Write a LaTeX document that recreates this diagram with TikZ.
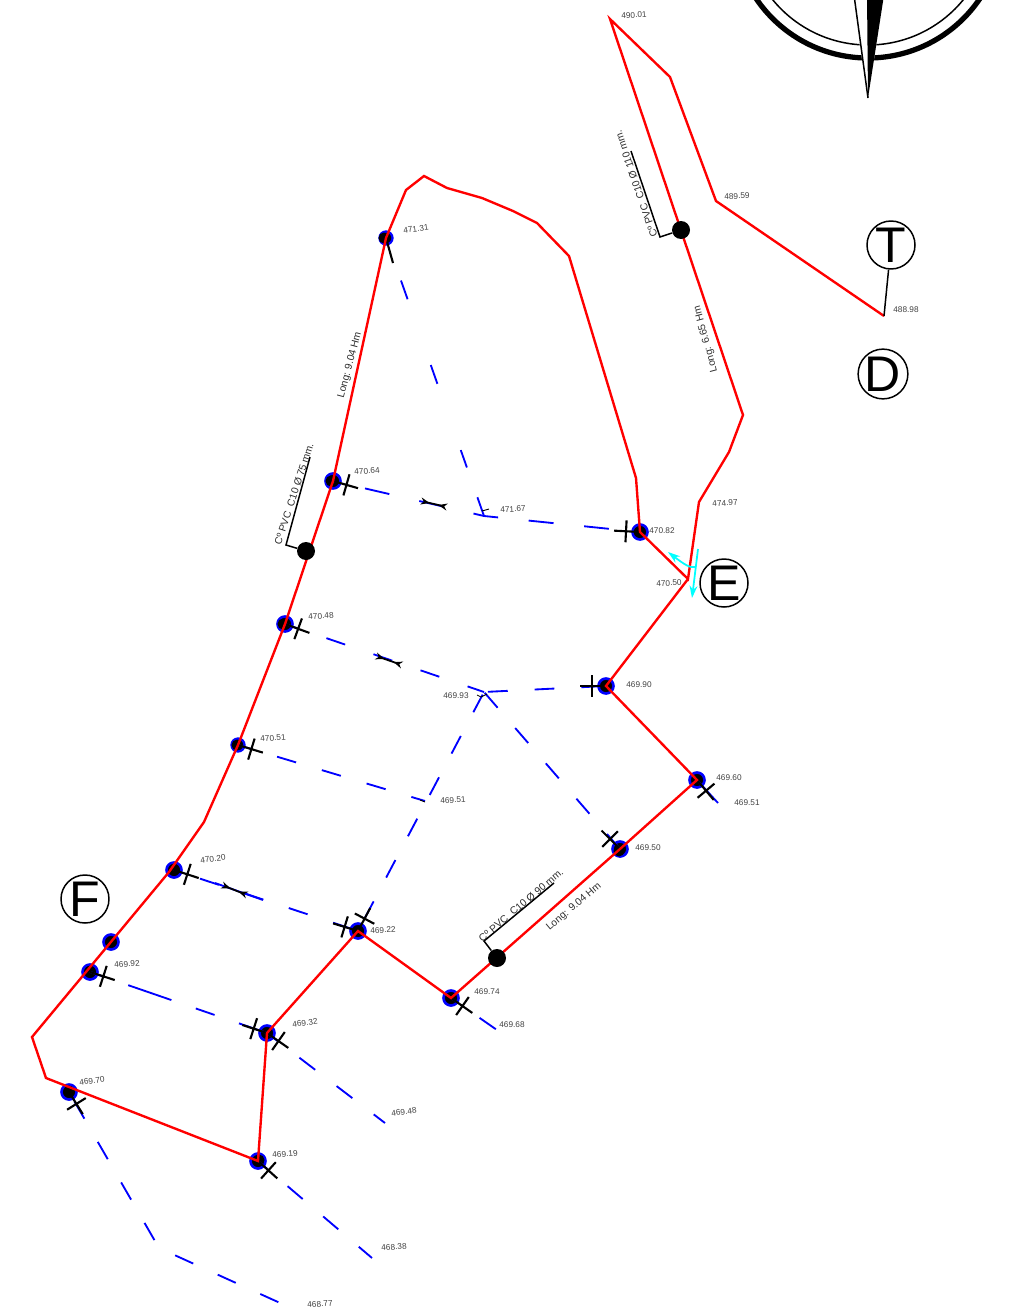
\documentclass[tikz,border=0pt]{standalone}
\usepackage{fontspec}
\setmainfont{Liberation Sans}
\usepackage{xcolor}
\usetikzlibrary{arrows.meta}
\definecolor{levelgray}{gray}{0.25}
\definecolor{aqua}{RGB}{0,255,255}
\tikzset{
    redline/.style={draw=red, line width=1.35pt, line join=miter},
    pipe/.style={draw=blue, line width=1.05pt, dash pattern=on 11.3pt off 15.3pt},
    valve/.style={circle, fill=black, draw=blue, line width=1.5pt, minimum size=0.3cm, inner sep=0pt},
    smallvalve/.style={valve, minimum size=0.26cm, line width=1.3pt},
    tee/.style={circle, fill=black, minimum size=0.36cm, inner sep=0pt},
    tick/.style={draw=black, line width=1.2pt},
    smalltick/.style={draw=black, line width=0.5pt},
    leader/.style={draw=black, line width=0.85pt},
    level/.style={font=\fontsize{4.7}{5}\selectfont, text=levelgray, inner sep=0pt},
    pipetext/.style={font=\fontsize{5.8}{7}\selectfont, text=levelgray!70!black, inner sep=0pt},
    letter/.style={circle, draw=black, line width=0.85pt, minimum size=0.96cm, inner sep=0pt, font=\fontsize{28.5}{30}\selectfont},
    flowmark/.style={draw=black, line width=1pt, {Stealth[reversed, length=5pt, width=4pt]}-{Stealth[reversed, length=5pt, width=4pt]}},
    cyanmark/.style={draw=aqua, line width=1pt, -{Stealth[length=7pt, width=4.5pt]}}
}
\newcommand{\crossmark}[2]{\draw[tick] (#1.center) -- +(#2:26) ++(#2:14) +(#2+90:11) -- +(#2-90:11);}
\begin{document}
\begin{tikzpicture}[x=0.02cm, y=-0.02cm]
    \useasboundingbox (0,0) rectangle (1025,1315);
    % Compass
    \begin{scope}
        \clip (0,0) rectangle (1025,1315);
        \draw[line width=3pt] (868,-77) circle (135);
        \draw[line width=0.85pt] (868,-78) circle (123);
        \fill[white] (852,-5) -- (884,-5) -- (868,98) -- cycle;
        \draw[line width=0.85pt] (854,-5) -- (868,98);
        \fill[black] (867,-5) -- (884,-5) -- (868,98) -- cycle;
    \end{scope}

    % Bends of the red line
    \coordinate (b1) at (670,77);
    \coordinate (b2) at (743,415);
    \coordinate (b3) at (729,452);
    \coordinate (b4) at (699,502);
    \coordinate (b5) at (636,478);
    \coordinate (b6) at (569,256);
    \coordinate (b7) at (537,223);
    \coordinate (b8) at (513,211);
    \coordinate (b9) at (482,198);
    \coordinate (b10) at (447,188);
    \coordinate (b11) at (424,176);
    \coordinate (b12) at (406,190);
    \coordinate (b13) at (204,822);
    \coordinate (b14) at (32,1037);
    \coordinate (b15) at (46,1078);
    \coordinate (b16) at (169,872);
    % Bend and free ends of the blue lines
    \coordinate (d1) at (484,516);
    \coordinate (d2) at (484,692);
    \coordinate (d3) at (425,801);
    \coordinate (d4) at (385,1123);
    \coordinate (d5) at (372,1258);
    \coordinate (d6) at (159,1248);
    \coordinate (d7) at (300,1312);
    \coordinate (d8) at (497,1030);
    \coordinate (d9) at (718,803);

    % Junctions
    \coordinate (top) at (610,19);
    \coordinate (mid) at (716,201);
    \coordinate (end) at (884,316);
    \coordinate (fork) at (688,579);
    \node[smallvalve] (v1) at (386,238) {};
    \node[valve] (v2) at (333,481) {};
    \node[valve] (v3) at (640,532) {};
    \node[valve] (v4) at (285,624) {};
    \node[valve] (v5) at (606,686) {};
    \node[valve] (v6) at (697,780) {};
    \node[smallvalve] (v7) at (238,745) {};
    \node[valve] (v8) at (620,849) {};
    \node[valve] (v9) at (174,870) {};
    \node[valve] (v10) at (358,931) {};
    \node[valve] (v11) at (111,942) {};
    \node[valve] (v12) at (90,972) {};
    \node[valve] (v13) at (451,998) {};
    \node[valve] (v14) at (267,1033) {};
    \node[valve] (v15) at (69,1092) {};
    \node[valve] (v16) at (258,1161) {};
    % Black lying off centre
    \foreach \n/\dx/\dy in {v1/-2/0, v2/-2/0, v3/-1/0, v4/-2/0, v7/-1/0, v8/-1/2, v9/0/-1, v12/0/-1, v15/0/-1, v16/1/-1}
        \fill[black] (\n.center) ++(\dx,\dy) circle (5.5);

    % Blue lines
    \draw[pipe, dash pattern=on 14.2pt off 17.5pt, dash phase=13pt] (v2.center) -- (d1) -- (v3.center);
    \draw[pipe, dash pattern=on 11.3pt off 18pt on 10.5pt off 40pt on 11.3pt off 39.7pt on 11.3pt off 113pt] (d1) -- (v1.center);
    \draw[pipe, dash pattern=on 11.3pt off 17pt, dash phase=3.4pt] (v4.center) -- (d2);
    \draw[pipe, dash phase=23.8pt] (v5.center) -- (d2);
    \draw[pipe, dash phase=3.4pt] (v7.center) -- (d3);
    \draw[pipe] (v8.center) -- (d2);
    \draw[pipe, dash phase=24.9pt] (d2) -- (v10.center);
    \draw[pipe, dash phase=11pt] (v9.center) -- (v10.center);
    \draw[draw=blue, line width=1.05pt] (215,883) -- (263,900);
    \draw[pipe, dash pattern=on 26pt off 14.7pt on 11.3pt off 14.7pt, dash phase=43.7pt] (v12.center) -- (v14.center);
    \draw[pipe, dash phase=3.4pt] (v14.center) -- (d4);
    \draw[pipe, dash phase=4.5pt] (v16.center) -- (d5);
    \draw[pipe, dash phase=20.4pt] (v15.center) -- (d6) -- (d7);
    \draw[pipe, dash phase=6.8pt] (v13.center) -- (d8);
    \draw[draw=blue, line width=1.05pt] (v6.center) -- (d9);
    % Small ticks on the blue lines
    \draw[smalltick] (482,511) -- (489,509);
    \draw[smalltick] (477,695) -- (481,697) -- (487,694);
    \draw[smalltick] (420,800) -- (425,802);

    % Crosses
    \crossmark{v2}{16}
    \crossmark{v3}{183}
    \crossmark{v4}{20}
    \crossmark{v5}{180}
    \crossmark{v6}{50}
    \crossmark{v7}{17}
    \crossmark{v8}{225}
    \crossmark{v9}{18}
    \crossmark{v10}{197}
    \crossmark{v10}{-62}
    \crossmark{v12}{18}
    \crossmark{v13}{35}
    \crossmark{v14}{198}
    \crossmark{v14}{35}
    \crossmark{v15}{58}
    \crossmark{v16}{42}
    \draw[tick] (v1.center) -- (393,263);

    % Red lines
    \draw[redline] (end) -- (mid) -- (b1) -- (top) -- (b2) -- (b3) -- (b4) -- (fork) -- (v3.center) -- (b5) -- (b6) -- (b7) -- (b8) -- (b9) -- (b10) -- (b11) -- (b12) -- (v1.center) -- (v2.center) -- (v4.center) -- (v7.center) -- (b13) -- (b16) -- (b14) -- (b15) -- (v16.center) -- (v14.center) -- (v10.center) -- (v13.center) -- (v8.center) -- (v6.center) -- (v5.center) -- (fork);

    % Black dots
    \node[tee] (t1) at (681,230) {};
    \node[tee] (t2) at (306,551) {};
    \node[tee] (t3) at (497,958) {};

    % Leaders with pipe text
    \draw[leader] (t1) -- (660,237) -- (631,151);
    \node[pipetext, rotate=109] (c1) at (636,184) {Cº PVC\ \ C10 Ø 110 mm.};
    \draw[leader] (t2) -- (286,545) -- (310,457);
    \node[pipetext, rotate=72] (c2) at (294,494) {Cº PVC\ \ C10 Ø 75 mm.};
    \draw[leader] (t3) -- (484,941) -- (554,883);
    \node[pipetext, rotate=40] (c3) at (521,905) {Cº PVC\ \ C10 Ø 90 mm.};
    \node[pipetext, rotate=105] (l1) at (706,339) {Long: 6.65 Hm};
    \node[pipetext, rotate=75] (l2) at (350,365) {Long: 9.04 Hm};
    \node[pipetext, rotate=40] (l3) at (574,907) {Long: 9.04 Hm};

    % Flow marks
    \draw[flowmark] (421,501) -- (447,507);
    \draw[flowmark] (376,656) -- (402,665);
    \draw[flowmark] (222,885) -- (247,895);

    % Cyan arrows
    \draw[cyanmark] (698,549) -- (692,598);
    \draw[cyanmark] (695,567) .. controls (690,568) and (685,565) .. (668,552);

    % Letters
    \node[letter] (letterT) at (891,245) {T};
    \node[letter] (letterD) at (883,374) {D};
    \node[letter] (letterE) at (724,583) {E};
    \node[letter] (letterF) at (85,899) {F};
    \draw[leader] (letterT) -- (end);

    % Levels
    \node[level, rotate=3] (n1) at (634,15) {490.01};
    \node[level, rotate=3] (n2) at (737,196) {489.59};
    \node[level] (n3) at (906,310) {488.98};
    \node[level, rotate=5] (n4) at (725,503) {474.97};
    \node[level] (n5) at (662,531) {470.82};
    \node[level, rotate=3] (n6) at (669,583) {470.50};
    \node[level] (n7) at (639,685) {469.90};
    \node[level] (n8) at (729,778) {469.60};
    \node[level] (n9) at (747,803) {469.51};
    \node[level] (n10) at (648,848) {469.50};
    \node[level] (n11) at (487,992) {469.74};
    \node[level] (n12) at (512,1025) {469.68};
    \node[level, rotate=8] (n13) at (416,229) {471.31};
    \node[level, rotate=5] (n14) at (367,471) {470.64};
    \node[level, rotate=3] (n15) at (513,509) {471.67};
    \node[level, rotate=5] (n16) at (321,616) {470.48};
    \node[level] (n17) at (456,696) {469.93};
    \node[level, rotate=5] (n18) at (273,738) {470.51};
    \node[level, rotate=3] (n19) at (453,800) {469.51};
    \node[level, rotate=8] (n20) at (213,859) {470.20};
    \node[level, rotate=3] (n21) at (383,930) {469.22};
    \node[level, rotate=5] (n22) at (127,964) {469.92};
    \node[level, rotate=8] (n23) at (305,1023) {469.32};
    \node[level, rotate=8] (n24) at (404,1112) {469.48};
    \node[level, rotate=8] (n25) at (92,1081) {469.70};
    \node[level, rotate=5] (n26) at (285,1154) {469.19};
    \node[level, rotate=5] (n27) at (394,1247) {468.38};
    \node[level, rotate=5] (n28) at (320,1304) {468.77};
\end{tikzpicture}
\end{document}
